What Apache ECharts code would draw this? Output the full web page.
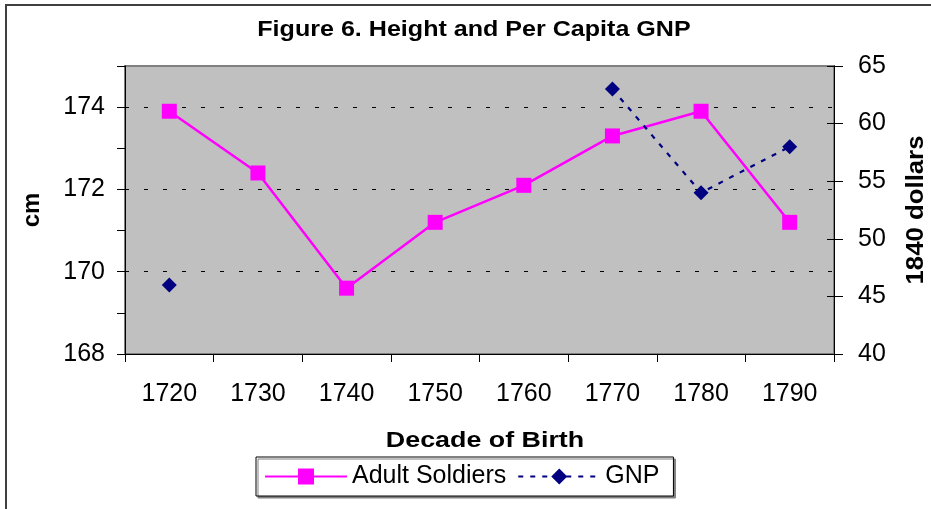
<!DOCTYPE html>
<html>
<head>
<meta charset="utf-8">
<script src="https://cdn.jsdelivr.net/npm/echarts@6/dist/echarts.min.js"></script>
<style>
html,body{margin:0;padding:0;background:#fff;}
#chart{width:931px;height:509px;}
</style>
</head>
<body>
<div id="chart"></div>
<script>
var categories = ['1720', '1730', '1740', '1750', '1760', '1770', '1780', '1790'];
var adultSoldiers = [173.9, 172.4, 169.6, 171.2, 172.1, 173.3, 173.9, 171.2];
var gnp = [46, null, null, null, null, 63, 54, 58];
var leftMin = 168, leftMax = 175;
var rightMin = 40, rightMax = 65;
var titleText = 'Figure 6. Height and Per Capita GNP';
var xName = 'Decade of Birth';
var leftName = 'cm';
var rightName = '1840 dollars';

var FONT = '"Liberation Sans", Arial, sans-serif';
var chart = echarts.init(document.getElementById('chart'), null, {renderer: 'canvas'});

function boldText(text, x, y, size, sx, rot) {
  return {
    type: 'text', x: x, y: y, rotation: rot || 0, scaleX: sx, scaleY: 1, z: 100,
    style: {
      text: text, fill: '#000', font: 'bold ' + size + 'px ' + FONT,
      align: 'center', verticalAlign: 'middle', textAlign: 'center', textVerticalAlign: 'middle'
    }
  };
}

var option = {
  animation: false,
  backgroundColor: '#ffffff',
  textStyle: {fontFamily: FONT},
  grid: {
    left: 125, right: 97, top: 66, bottom: 155,
    show: true, backgroundColor: '#C0C0C0', borderColor: '#808080', borderWidth: 2
  },
  legend: {
    left: 256, top: 457,
    orient: 'horizontal',
    itemWidth: 82, itemHeight: 20, itemGap: 11,
    padding: [7, 14, 7, 8],
    borderColor: '#000', borderWidth: 1,
    backgroundColor: '#fff',
    shadowColor: '#808080', shadowOffsetX: 2, shadowOffsetY: 2, shadowBlur: 0,
    textStyle: {fontSize: 25, color: '#000', fontFamily: FONT},
    data: ['Adult Soldiers', 'GNP']
  },
  xAxis: {
    type: 'category', data: categories, boundaryGap: true,
    axisLine: {show: true, lineStyle: {color: '#000', width: 1}},
    axisTick: {show: true, length: 8, inside: false, lineStyle: {color: '#000'}},
    axisLabel: {fontSize: 25, color: '#000', margin: 28, fontFamily: FONT},
    splitLine: {show: false}
  },
  yAxis: [
    {
      type: 'value', position: 'left', min: leftMin, max: leftMax, interval: 1,
      axisLine: {show: true, lineStyle: {color: '#000', width: 1}},
      axisTick: {show: true, length: 8, lineStyle: {color: '#000'}},
      axisLabel: {fontSize: 25, color: '#000', margin: 20, fontFamily: FONT,
        formatter: function (v) { return (v % 2 === 0 && v < leftMax) ? String(v) : ''; }},
      splitLine: {show: false}
    },
    {
      type: 'value', position: 'right', min: rightMin, max: rightMax, interval: 5,
      axisLine: {show: true, lineStyle: {color: '#000', width: 1}},
      axisTick: {show: true, length: 9, lineStyle: {color: '#000'}},
      axisLabel: {fontSize: 25, color: '#000', margin: 24, fontFamily: FONT},
      splitLine: {show: false}
    },
    {
      type: 'value', position: 'left', min: leftMin, max: leftMax, interval: 2,
      axisLine: {show: false}, axisTick: {show: false}, axisLabel: {show: false},
      splitLine: {show: true, showMinLine: false, showMaxLine: false,
        lineStyle: {color: '#000', type: [4, 15], width: 1}}
    },
    {
      type: 'value', position: 'right', min: rightMin, max: rightMax, interval: 5,
      axisLine: {show: false}, axisLabel: {show: false},
      axisTick: {show: true, inside: true, length: 7, lineStyle: {color: '#000'}},
      splitLine: {show: false}
    }
  ],
  series: [
    {
      name: 'Adult Soldiers', type: 'line', yAxisIndex: 0, data: adultSoldiers,
      symbol: 'rect', symbolSize: 15, z: 3,
      lineStyle: {color: '#FF00FF', width: 2.5},
      itemStyle: {color: '#FF00FF'}
    },
    {
      name: 'GNP', type: 'line', yAxisIndex: 1, data: gnp, connectNulls: false,
      symbol: 'diamond', symbolSize: 15, z: 4,
      lineStyle: {color: '#000080', width: 2.2, type: [5, 7]},
      itemStyle: {color: '#000080'}
    }
  ],
  graphic: [
    {type: 'line', z: 100, shape: {x1: 6, y1: 5, x2: 6, y2: 509}, style: {stroke: '#404040', lineWidth: 2}},
    {type: 'line', z: 100, shape: {x1: 5, y1: 5, x2: 931, y2: 5}, style: {stroke: '#404040', lineWidth: 2}},
    boldText(titleText, 474, 30, 22, 1.14, 0),
    boldText(xName, 485, 441, 22, 1.22, 0),
    boldText(leftName, 32, 210, 24, 1.0, Math.PI / 2),
    boldText(rightName, 917, 210, 23, 1.12, Math.PI / 2)
  ]
};
chart.setOption(option);
</script>
</body>
</html>
